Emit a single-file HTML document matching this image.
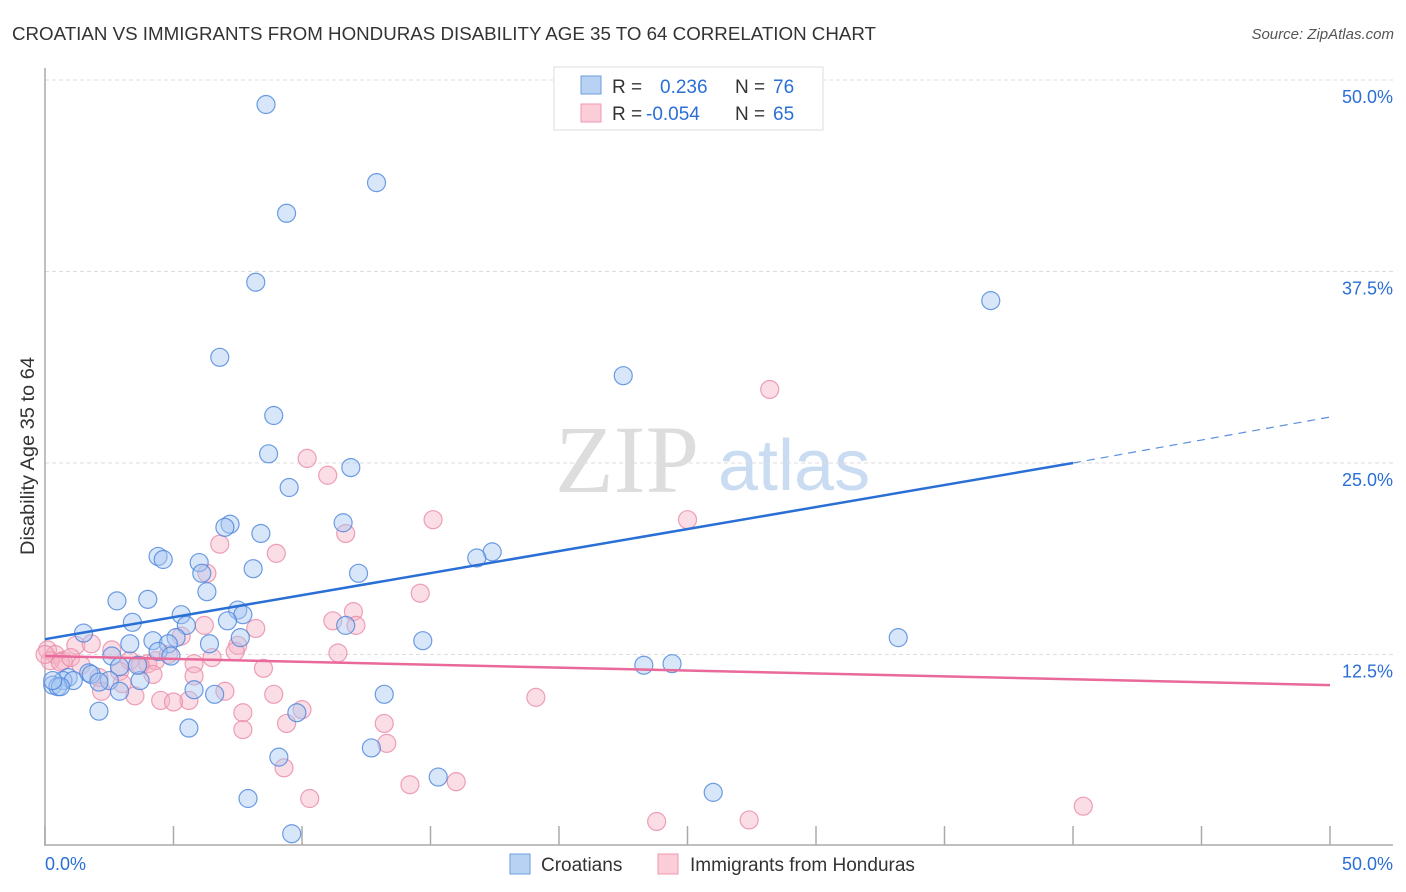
<!DOCTYPE html>
<html><head><meta charset="utf-8"><style>
body{margin:0;background:#fff;font-family:"Liberation Sans",sans-serif;}
svg{display:block}
</style></head><body>
<svg id="chart" width="1406" height="892" xmlns="http://www.w3.org/2000/svg">
<text x="12" y="40" font-size="18.5" fill="#333" textLength="864" lengthAdjust="spacingAndGlyphs">CROATIAN VS IMMIGRANTS FROM HONDURAS DISABILITY AGE 35 TO 64 CORRELATION CHART</text>
<text x="1394" y="39" font-size="15" fill="#555" font-style="italic" text-anchor="end">Source: ZipAtlas.com</text>
<g>
<text x="555" y="492" font-size="96" fill="#ddd" font-family="Liberation Serif,serif">ZIP</text>
<text x="718" y="490" font-size="72" fill="#c9dcf2">atlas</text>
</g>
<g id="grid"></g>
<g id="axes"></g>
<g id="pink"></g>
<g id="blue"></g>
<g id="trends"></g>
<g>
<rect x="554" y="67" width="269" height="63" fill="#fff" stroke="#ddd"/>
<rect x="581" y="76" width="20" height="18" fill="#b8d2f4" stroke="#6b9de0"/>
<rect x="581" y="104" width="20" height="18" fill="#fbcdd9" stroke="#ee9ab3"/>
<text x="612" y="93" font-size="19" fill="#333">R =</text>
<text x="660" y="93" font-size="19" fill="#2a6fd6">0.236</text>
<text x="735" y="93" font-size="19" fill="#333">N =</text>
<text x="773" y="93" font-size="19" fill="#2a6fd6">76</text>
<text x="612" y="120" font-size="19" fill="#333">R =</text>
<text x="646" y="120" font-size="19" fill="#2a6fd6">-0.054</text>
<text x="735" y="120" font-size="19" fill="#333">N =</text>
<text x="773" y="120" font-size="19" fill="#2a6fd6">65</text>
</g>
<g>
<rect x="510" y="854" width="20" height="20" fill="#b8d2f4" stroke="#6b9de0"/>
<text x="541" y="871" font-size="19" fill="#333">Croatians</text>
<rect x="658" y="854" width="20" height="20" fill="#fbcdd9" stroke="#ee9ab3"/>
<text x="690" y="871" font-size="19" fill="#333">Immigrants from Honduras</text>
</g>
<text transform="translate(34,456) rotate(-90)" font-size="19" fill="#333" text-anchor="middle" textLength="198" lengthAdjust="spacingAndGlyphs">Disability Age 35 to 64</text>
</svg>
<script>
const yTicks=[12.5,25.0,37.5,50.0];
const yTickLabels=["12.5%","25.0%","37.5%","50.0%"];
const xTicks=[0,5,10,15,20,25,30,35,40,45,50];
const blueX=[8.6,12.9,9.4,8.2,36.8,6.8,22.5,8.9,8.7,9.5,11.9,7.2,7.0,11.6,8.4,17.4,16.8,4.4,4.6,6.0,8.1,12.2,6.1,6.3,2.8,4.0,7.5,5.3,7.7,7.1,3.4,5.5,11.7,1.5,33.2,7.6,4.2,3.3,6.4,5.1,4.8,14.7,2.6,4.4,4.9,23.3,24.4,2.9,2.5,3.7,1.7,0.9,1.8,2.1,0.7,1.1,0.3,0.5,0.6,5.8,6.6,13.2,2.9,2.1,9.8,5.6,12.7,9.1,15.3,26.0,7.9,9.6,0.3,3.6];
const blueY=[48.4,43.3,41.3,36.8,35.6,31.9,30.7,28.1,25.6,23.4,24.7,21.0,20.8,21.1,20.4,19.2,18.8,18.9,18.7,18.5,18.1,17.8,17.8,16.6,16.0,16.1,15.4,15.1,15.1,14.7,14.6,14.4,14.4,13.9,13.6,13.6,13.4,13.2,13.2,13.6,13.2,13.4,12.4,12.7,12.4,11.8,11.9,11.7,10.8,10.8,11.3,11.0,11.2,10.7,10.8,10.8,10.5,10.4,10.4,10.2,9.9,9.9,10.1,8.8,8.7,7.7,6.4,5.8,4.5,3.5,3.1,0.8,10.8,11.8];
const pinkX=[28.2,10.2,11.0,15.1,25.0,11.7,6.8,9.0,6.3,14.6,12.0,11.2,12.1,6.2,8.2,7.5,5.3,7.4,11.4,6.5,0.1,0.4,0.7,0.2,1.2,1.8,2.6,3.3,4.0,4.3,5.8,8.5,2.9,2.1,5.8,3.7,4.8,3.0,2.2,7.0,8.9,4.5,3.5,5.6,5.0,7.7,10.0,9.4,7.7,13.2,19.1,13.3,9.3,16.0,14.2,10.3,40.4,23.8,27.4,0.6,1.0,1.4,0.0,4.2];
const pinkY=[29.8,25.3,24.2,21.3,21.3,20.4,19.7,19.1,17.8,16.5,15.3,14.7,14.4,14.4,14.2,13.1,13.7,12.7,12.6,12.3,12.8,12.5,12.1,12.1,13.1,13.2,12.8,12.1,11.9,12.1,11.9,11.6,11.4,11.0,11.1,11.8,12.5,10.6,10.1,10.1,9.9,9.5,9.8,9.5,9.4,8.7,8.9,8.0,7.6,8.0,9.7,6.7,5.1,4.2,4.0,3.1,2.6,1.6,1.7,12.0,12.3,11.8,12.5,11.2];
const blueTrendX=[0,40,50];
const blueTrendY=[13.5,25.0,28.0];
const pinkTrendX=[0,50];
const pinkTrendY=[12.4,10.5];
const NS="http://www.w3.org/2000/svg";
const sx=v=>45+v/50*1285;
const sy=v=>846-v/12.5*191.5;
function mk(tag,attrs,parent){const e=document.createElementNS(NS,tag);for(const k in attrs)e.setAttribute(k,attrs[k]);parent.appendChild(e);return e;}
const grid=document.getElementById('grid'),axes=document.getElementById('axes');
yTicks.forEach((t,i)=>{
 const l=mk('line',{x1:45,x2:1393,y1:sy(t),y2:sy(t),stroke:'#ddd','stroke-dasharray':'4 3'},grid);
 
 
 const tx=mk('text',{x:1393,y:sy(t)+23,'font-size':18,fill:'#2a6fd6','text-anchor':'end'},axes);
 tx.textContent=yTickLabels[i];
 
 
});
mk('line',{x1:45,x2:45,y1:68,y2:846,stroke:'#aaa','stroke-width':1.5},axes);
mk('line',{x1:45,x2:1393,y1:845,y2:845,stroke:'#aaa','stroke-width':1.5},axes);
xTicks.forEach(t=>{const k=mk('line',{x1:sx(t),x2:sx(t),y1:826,y2:845,stroke:'#aaa','stroke-width':1.5},axes);
 
 });
let a=mk('text',{x:45,y:870,'font-size':18,fill:'#2a6fd6'},axes);a.textContent='0.0%';
let b=mk('text',{x:1393,y:870,'font-size':18,fill:'#2a6fd6','text-anchor':'end'},axes);b.textContent='50.0%';
function dots(xs,ys,g,fill,stroke,name){xs.forEach((x,i)=>{const c=mk('circle',{cx:sx(x),cy:sy(ys[i]),r:9,fill:fill,'fill-opacity':0.45,stroke:stroke,'stroke-opacity':0.8,'stroke-width':1.2},g);
 
 });}
dots(pinkX,pinkY,document.getElementById('pink'),'#f7b3c6','#e98aa8','honduras-point');
dots(blueX,blueY,document.getElementById('blue'),'#a8c8f2','#4a85dc','croatian-point');
const tr=document.getElementById('trends');
const bl=mk('line',{x1:sx(blueTrendX[0]),y1:sy(blueTrendY[0]),x2:sx(blueTrendX[1]),y2:sy(blueTrendY[1]),stroke:'#2a6fd6','stroke-width':2.5},tr);


const bd=mk('line',{x1:sx(blueTrendX[1]),y1:sy(blueTrendY[1]),x2:sx(blueTrendX[2]),y2:sy(blueTrendY[2]),stroke:'#5b8fdc','stroke-width':1.2,'stroke-dasharray':'8 6'},tr);


const pl=mk('line',{x1:sx(pinkTrendX[0]),y1:sy(pinkTrendY[0]),x2:sx(pinkTrendX[1]),y2:sy(pinkTrendY[1]),stroke:'#e8699a','stroke-width':2.5},tr);


</script>
</body></html>
